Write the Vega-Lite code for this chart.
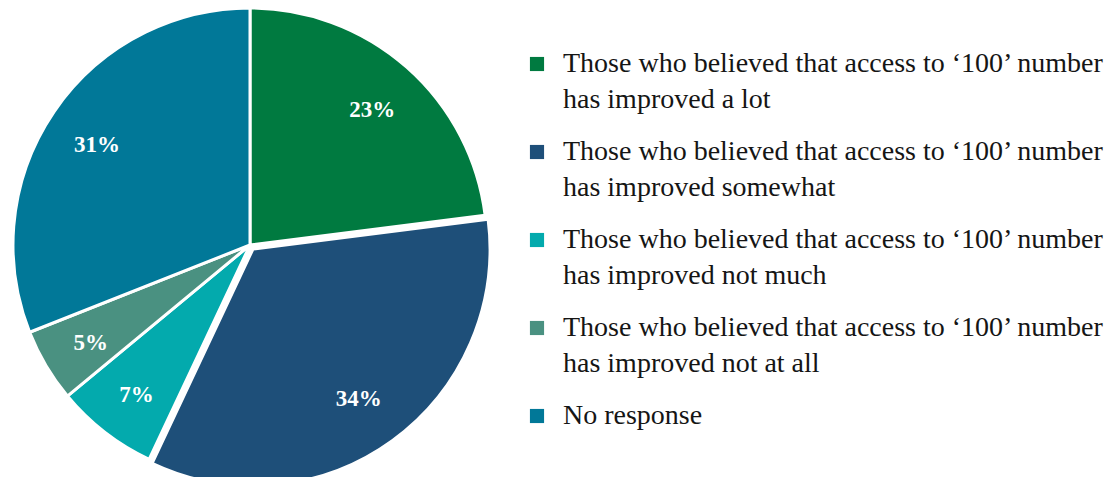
{
  "$schema": "https://vega.github.io/schema/vega-lite/v6.json",
  "width": 500,
  "height": 490,
  "padding": {"left": 0, "top": 0, "right": 607, "bottom": 0},
  "autosize": {"type": "none"},
  "background": "white",
  "data": {
    "values": [
      {"cat": "Those who believed that access to ‘100’ number has improved a lot", "pct": 23, "rank": 1, "label": "23%"},
      {"cat": "Those who believed that access to ‘100’ number has improved somewhat", "pct": 34, "rank": 2, "label": "34%"},
      {"cat": "Those who believed that access to ‘100’ number has improved not much", "pct": 7, "rank": 3, "label": "7%"},
      {"cat": "Those who believed that access to ‘100’ number has improved not at all", "pct": 5, "rank": 4, "label": "5%"},
      {"cat": "No response", "pct": 31, "rank": 5, "label": "31%"}
    ]
  },
  "encoding": {
    "theta": {"field": "pct", "type": "quantitative", "stack": true},
    "order": {"field": "rank", "type": "quantitative"},
    "color": {
      "field": "cat",
      "type": "nominal",
      "sort": [
        "Those who believed that access to ‘100’ number has improved a lot",
        "Those who believed that access to ‘100’ number has improved somewhat",
        "Those who believed that access to ‘100’ number has improved not much",
        "Those who believed that access to ‘100’ number has improved not at all",
        "No response"
      ],
      "scale": {
        "domain": [
          "Those who believed that access to ‘100’ number has improved a lot",
          "Those who believed that access to ‘100’ number has improved somewhat",
          "Those who believed that access to ‘100’ number has improved not much",
          "Those who believed that access to ‘100’ number has improved not at all",
          "No response"
        ],
        "range": ["#007A40", "#1E4F79", "#03AAAD", "#4A9181", "#017898"]
      },
      "legend": {
        "title": null,
        "orient": "none",
        "legendX": 523,
        "legendY": 50,
        "symbolType": "square",
        "symbolSize": 200,
        "symbolStrokeWidth": 0,
        "labelFont": "Liberation Serif",
        "labelFontSize": 28,
        "labelColor": "#151515",
        "labelLimit": 0,
        "labelOffset": 12,
        "rowPadding": 24,
        "labelExpr": "indexof(datum.label, ' number ') > 0 ? [substring(datum.label, 0, indexof(datum.label, ' number ') + 7), substring(datum.label, indexof(datum.label, ' number ') + 8)] : datum.label"
      }
    }
  },
  "layer": [
    {
      "mark": {"type": "arc", "radius": 237, "stroke": "white", "strokeWidth": 3},
      "encoding": {
        "opacity": {"condition": {"test": "datum.rank === 2", "value": 0}, "value": 1}
      }
    },
    {
      "mark": {"type": "arc", "radius": 237, "stroke": "white", "strokeWidth": 3, "xOffset": 3, "yOffset": 4},
      "encoding": {
        "opacity": {"condition": {"test": "datum.rank === 2", "value": 1}, "value": 0}
      }
    },
    {
      "mark": {"type": "text", "radius": 185, "yOffset": 4, "font": "Liberation Serif", "fontSize": 23, "fontWeight": "bold", "fill": "white"},
      "encoding": {
        "text": {"field": "label", "type": "nominal"},
        "color": {"value": "white"}
      }
    }
  ],
  "config": {
    "view": {"stroke": null},
    "style": {"guide-label": {"lineHeight": 36}}
  }
}
